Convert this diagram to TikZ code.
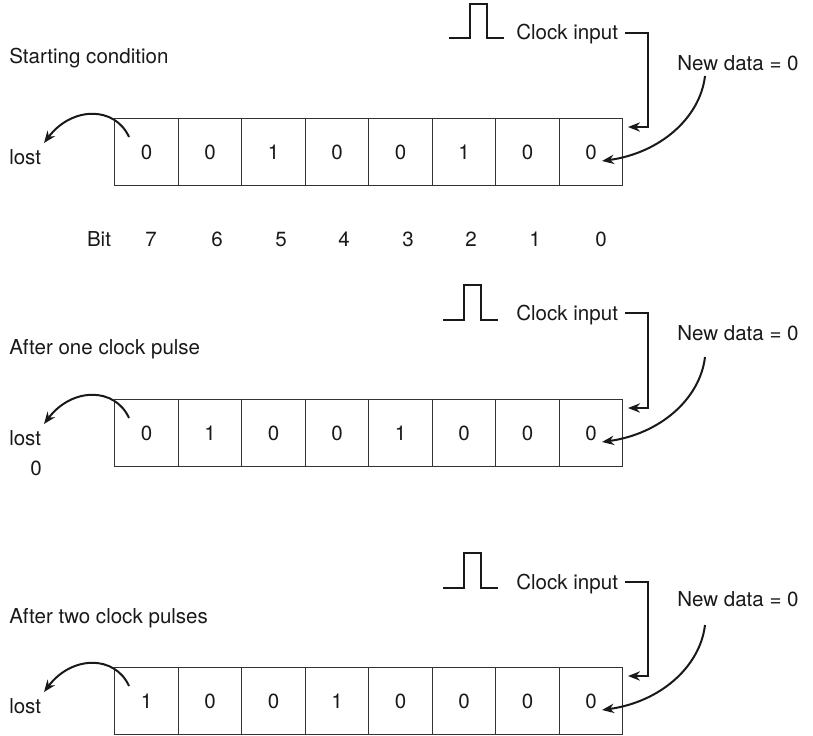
\documentclass[tikz,border=0pt]{standalone}
\usepackage{fontspec}
\setmainfont{TeX Gyre Heros}
\usetikzlibrary{arrows.meta}
\begin{document}
\begin{tikzpicture}[x=0.75pt,y=-0.75pt,
  txt/.style={inner sep=0pt, font=\fontsize{15.4}{18}\selectfont, text=black!90},
  cell/.style={txt, draw=black!80, line width=1.1pt, minimum width=47.625pt,
    minimum height=50.25pt, anchor=north west},
  wire/.style={line width=1.5pt, draw=black!90},
  tip/.style={-{Stealth[length=9pt,width=7pt]}}]
\useasboundingbox (0,0) rectangle (813,735);
\foreach \r/\T/\lab/\lb/\cb/\pb/\ptop/\px/\nb/\vals in {
 1/118/Starting condition/64/40/38/4/449/70/{0,0,1,0,0,1,0,0},
 2/399/After one clock pulse/354/320/320/285/443/340/{0,1,0,0,1,0,0,0},
 3/667/After two clock pulses/623/589/588/553/443/606/{1,0,0,1,0,0,0,0}}
{
  \node[txt, anchor=base west] (lab\r) at (9,\lb) {\lab};
  \foreach \v [count=\i] in \vals {
    \node[cell] (c\r-\i) at ({114+63.5*(\i-1)},\T) {\v};
  }
  % clock pulse
  \draw[wire] (\px,\pb) -- (\px+21,\pb) -- (\px+21,\ptop) -- (\px+38,\ptop)
    -- (\px+38,\pb) -- (\px+55,\pb);
  \node[txt, anchor=base west] (clk\r) at (516,\cb) {Clock input};
  \coordinate (cs\r) at (625,\cb-7);
  \coordinate (in\r) at (628,\T+9);
  \draw[wire, tip] (cs\r) -| (648,\T+9) -- (in\r);
  % new data
  \node[txt, anchor=base west] (nd\r) at (677,\nb) {New data = 0};
  \coordinate (ns\r) at (705,\T-42);
  \coordinate (ne\r) at (602,\T+43);
  \draw[wire, tip] (ns\r) .. controls (700,\T) and (660,\T+35) .. (ne\r);
  % lost
  \node[txt, anchor=base west] (lost\r) at (9,\T+46) {lost};
  \coordinate (ls\r) at (129,\T+19);
  \coordinate (le\r) at (44,\T+25);
  \draw[wire, tip] (ls\r) .. controls (115,\T-12) and (72,\T-12) .. (le\r);
}
\node[txt, anchor=base] (lostzero) at (36,475) {0};
% bit numbers
\node[txt, anchor=base] (bit) at (99,246) {Bit};
\foreach \b/\x in {7/151,6/217,5/281,4/344,3/408,2/471,1/535,0/601}{
  \node[txt, anchor=base] (bit\b) at (\x,246) {\b};
}
\end{tikzpicture}
\end{document}
